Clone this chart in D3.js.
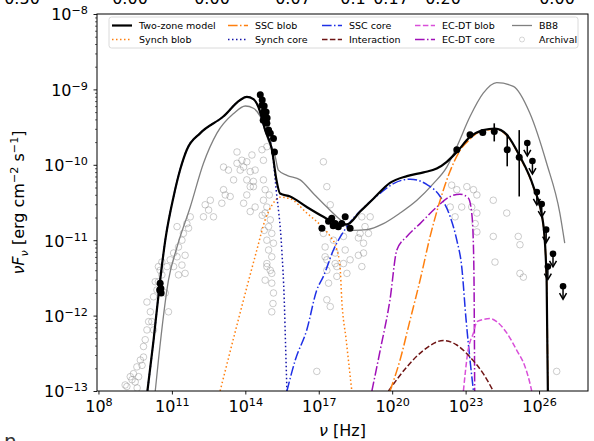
<!DOCTYPE html>
<html><head><meta charset="utf-8">
<script src="https://cdn.jsdelivr.net/npm/d3@7/dist/d3.min.js"></script>
<style>body{margin:0;background:#fff}svg{display:block}text{font-family:"DejaVu Sans",sans-serif}</style>
</head><body><svg id="c" width="594" height="441"></svg>
<script>
// ---------- data (log10 values) ----------
const xTickExps = [8, 11, 14, 17, 20, 23, 26];
const yTickExps = [-13, -12, -11, -10, -9, -8];
const topCutTexts = ["0.50", "0.00", "0.00", "0.07", "0.1", "0.17", "0.20", "0.00"];

const twoZoneLogNu = [10.00,10.25,10.52,10.73,11.07,11.35,11.61,12.16,13.10,13.79,14.06,14.33,14.53,14.81,15.10,15.26,15.42,15.83,16.51,17.19,17.74,18.15,18.69,19.23,19.91,20.60,21.28,21.82,22.23,22.64,23.18,23.72,24.20,24.68,25.22,25.77,26.17,26.31,26.36];
const twoZoneLogF  = [-13.0,-12.33,-11.53,-11.00,-10.42,-10.05,-9.80,-9.58,-9.36,-9.14,-9.10,-9.13,-9.23,-9.54,-9.82,-10.18,-10.38,-10.42,-10.56,-10.69,-10.78,-10.79,-10.62,-10.45,-10.24,-10.15,-10.10,-10.05,-9.96,-9.83,-9.63,-9.54,-9.52,-9.60,-9.89,-10.29,-10.78,-11.53,-13.0];

const synchBlobLogNu = [12.97,13.71,14.47,14.81,15.10,15.42,15.83,16.51,17.19,17.47,17.74,17.87,17.94,18.12,18.35];
const synchBlobLogF  = [-13.0,-12.06,-11.13,-10.73,-10.53,-10.43,-10.45,-10.64,-10.84,-10.95,-11.13,-11.35,-11.79,-12.32,-13.0];

const synchCoreLogNu = [10.00,10.25,10.52,10.73,11.07,11.35,11.61,12.16,13.10,13.79,14.06,14.33,14.53,14.81,15.08,15.26,15.49,15.59,15.65,15.70];
const synchCoreLogF  = [-13.0,-12.33,-11.53,-11.00,-10.42,-10.05,-9.80,-9.58,-9.36,-9.14,-9.10,-9.13,-9.23,-9.54,-9.78,-10.33,-11.13,-11.79,-12.46,-13.0];

const sscCoreLogNu = [15.70,16.04,16.51,16.92,17.19,17.60,18.15,18.96,19.50,20.05,20.73,21.41,21.96,22.37,22.64,22.84,23.02,23.18,23.32];
const sscCoreLogF  = [-13.0,-12.59,-12.19,-11.66,-11.48,-11.13,-10.82,-10.53,-10.38,-10.25,-10.19,-10.26,-10.42,-10.69,-11.00,-11.35,-12.06,-12.59,-13.0];

const sscBlobLogNu = [19.91,20.32,20.73,21.14,21.55,21.96,22.36,22.77,23.18,23.59,24.20,24.68,25.22,25.77,26.17,26.31,26.36];
const sscBlobLogF  = [-13.0,-12.59,-12.06,-11.53,-10.95,-10.47,-10.09,-9.81,-9.66,-9.56,-9.53,-9.61,-9.90,-10.30,-10.79,-11.54,-13.0];

const ecdtCoreLogNu = [19.17,19.51,19.91,20.19,20.60,21.14,21.82,22.37,22.77,23.11,23.25,23.32,23.35,23.37];
const ecdtCoreLogF  = [-13.0,-12.46,-11.79,-11.13,-10.95,-10.78,-10.56,-10.42,-10.39,-10.44,-10.64,-11.09,-11.79,-13.0];

const ecdtBlobLogNu = [22.91,23.10,23.32,23.46,24.00,24.27,24.68,25.09,25.43,25.63,25.70];
const ecdtBlobLogF  = [-13.0,-12.46,-12.23,-12.08,-12.04,-12.08,-12.23,-12.46,-12.68,-12.90,-13.0];

const interactionLogNu = [19.85,20.60,21.28,22.09,22.64,23.18,23.72,24.13];
const interactionLogF  = [-13.0,-12.68,-12.46,-12.33,-12.39,-12.55,-12.77,-13.0];

const bb8LogNu = [10.32,10.45,10.86,11.21,11.75,12.29,12.84,13.52,14.00,14.33,14.61,14.93,15.22,15.35,15.70,16.24,16.78,17.33,17.88,18.42,18.96,19.64,20.32,21.01,21.68,22.23,22.64,23.18,23.72,24.27,24.95,25.63,26.31,26.85,27.05];
const bb8LogF  = [-13.0,-12.59,-11.53,-11.09,-10.56,-9.98,-9.58,-9.32,-9.22,-9.25,-9.36,-9.67,-9.89,-10.07,-10.14,-10.20,-10.38,-10.56,-10.73,-10.87,-10.86,-10.78,-10.64,-10.47,-10.25,-10.03,-9.76,-9.36,-9.05,-8.91,-8.96,-9.32,-9.98,-10.64,-11.04];

const archivalLogNu = [9.16,9.37,9.43,9.57,9.64,9.71,9.78,9.84,9.91,9.98,10.05,10.12,10.18,9.98,10.25,10.39,10.45,10.59,10.73,10.86,10.32,10.52,10.80,10.93,11.21,11.54,11.54,10.25,9.84,9.30,9.50,9.09,9.58,
10.45,10.59,11.07,11.27,11.41,11.61,11.47,11.75,12.36,12.57,12.70,13.04,13.11,13.18,13.38,12.29,12.50,13.11,13.31,13.52,13.66,13.86,13.93,14.06,14.20,14.33,14.27,14.40,13.66,13.79,14.06,14.20,14.33,14.20,14.40,14.74,14.81,14.74,14.88,14.81,15.02,14.95,15.08,14.88,15.15,14.95,15.08,14.88,15.08,14.74,14.68,14.88,14.06,13.93,11.41,11.07,11.27,11.68,11.21,15.02,15.08,15.15,15.13,15.08,14.88,14.81,14.77,14.98,14.69,
17.26,17.33,17.40,17.33,17.47,17.67,17.74,16.92,17.19,17.26,17.33,17.60,17.67,17.74,18.01,18.08,18.01,18.15,17.19,17.33,17.47,18.76,18.89,19.03,19.10,18.83,18.69,18.62,18.76,18.62,18.83,18.28,
22.43,22.64,23.05,23.32,23.46,23.25,23.46,23.39,23.46,22.37,22.57,22.84,24.13,24.13,24.20,24.68,25.15,25.22,25.22,25.36,26.72];
const archivalLogF = [-12.94,-12.85,-12.77,-12.68,-12.81,-12.59,-12.66,-12.55,-12.32,-12.19,-12.08,-11.95,-12.08,-11.82,-11.75,-11.66,-11.55,-11.46,-11.70,-11.95,-11.55,-11.40,-11.35,-11.26,-11.22,-11.44,-11.20,-12.19,-12.41,-12.81,-12.88,-12.92,-12.96,
-11.35,-11.29,-11.17,-11.09,-11.33,-10.78,-10.91,-10.69,-10.53,-10.47,-10.69,-10.51,-10.33,-10.40,-10.42,-10.69,-10.60,-10.03,-10.07,-10.20,-9.83,-9.94,-10.03,-9.96,-10.09,-10.22,-9.87,-10.07,-9.98,-10.07,-10.20,-10.29,-10.29,-10.62,-10.56,-10.20,-10.33,-10.47,-10.56,-10.64,-10.73,-10.82,-10.91,-11.00,-11.04,-11.13,-11.22,-11.35,-11.44,-9.94,-9.80,-9.76,-10.40,-10.51,-11.00,-11.35,-11.46,-10.84,-10.82,-11.40,-11.57,-11.70,-11.84,-11.95,-11.31,-11.53,-10.87,-10.40,-10.67,
-11.22,-11.40,-11.57,-11.79,-11.88,-11.31,-11.48,-12.74,-10.91,-11.09,-11.26,-11.00,-11.17,-11.35,-10.95,-11.13,-11.31,-11.44,-9.96,-10.29,-10.53,-10.69,-10.82,-10.91,-10.69,-11.04,-10.91,-10.97,-11.35,-11.20,-11.17,-11.26,
-10.27,-10.33,-10.29,-10.33,-10.40,-10.56,-10.64,-10.78,-10.89,-10.56,-10.69,-10.56,-10.47,-10.95,-11.29,-10.64,-10.95,-11.06,-11.44,-11.49,-12.74];

const obsLogNu = [10.52,10.55,10.56,10.50, 14.61,14.68,14.69,14.74,14.77,14.81,14.85,14.88,14.95,15.02,15.15,15.19,14.73,14.89, 17.13,17.40,17.53,17.67,17.80,17.94,18.08,18.28,17.59, 22.64,23.18,23.70];
const obsLogF  = [-11.57,-11.64,-11.70,-11.66, -9.07,-9.21,-9.14,-9.30,-9.22,-9.36,-9.30,-9.45,-9.54,-9.58,-9.65,-9.83,-9.41,-9.38, -10.84,-10.75,-10.71,-10.78,-10.82,-10.78,-10.69,-10.84,-10.81, -9.80,-9.60,-9.57];

const errLogNu = [24.17, 24.70, 25.19];
const errLogF  = [-9.56, -9.80, -9.90];
const errLogLo = [-9.69, -10.02, -10.42];
const errLogHi = [-9.45, -9.60, -9.54];

const ulLogNu = [25.52,25.73,25.91,26.11,26.29,26.57,26.36,26.98];
const ulLogF  = [-9.71,-9.95,-10.36,-10.52,-10.86,-11.18,-11.35,-11.61];

const legendLabels = ["Two-zone model","Synch blob","SSC blob","Synch core","SSC core","Interaction","EC-DT blob","EC-DT core","BB8","Archival"];

// ---------- layout ----------
const L = 97, R = 588, T = 14, B = 391;
const svg = d3.select("#c");
svg.append("rect").attr("width",594).attr("height",441).attr("fill","#fff");

const x = d3.scaleLog().domain([Math.pow(10,7.94), 1e28]).range([L, R]);
const y = d3.scaleLog().domain([1e-13, 1e-8]).range([B, T]);
const P = v => Math.pow(10, v);

svg.append("clipPath").attr("id","clip").append("rect").attr("x",L).attr("y",T).attr("width",R-L).attr("height",B-T);
const plot = svg.append("g").attr("clip-path","url(#clip)");

const line = d3.line().x(d => x(P(d[0]))).y(d => y(P(d[1]))).curve(d3.curveMonotoneX);

// archival
plot.append("g").selectAll("circle").data(d3.zip(archivalLogNu, archivalLogF)).join("circle")
  .attr("cx", d => x(P(d[0]))).attr("cy", d => y(P(d[1]))).attr("r", 3.3)
  .attr("fill","none").attr("stroke","#7a7a7a").attr("stroke-opacity",0.38).attr("stroke-width",1);

const styles = {
  synchBlob:  {color:"#ff7f0e", dash:"1.5,2.5", w:1.5},
  sscBlob:    {color:"#ff7f0e", dash:"9.6,2.4,1.5,2.4", w:1.5},
  synchCore:  {color:"#1414a8", dash:"1.5,2.5", w:1.5},
  sscCore:    {color:"#1f30e6", dash:"9.6,2.4,1.5,2.4", w:1.5},
  interaction:{color:"#6e1414", dash:"5.5,2.4", w:1.5},
  ecdtBlob:   {color:"#d94fd9", dash:"5.5,2.4", w:1.5},
  ecdtCore:   {color:"#a010b8", dash:"9.6,2.4,1.5,2.4", w:1.5},
  bb8:        {color:"#808080", dash:null, w:1.3},
  model:      {color:"#000000", dash:null, w:2.2}
};
function drawCurve(nu, f, st) {
  plot.append("path").datum(d3.zip(nu, f)).attr("d", line)
    .attr("fill","none").attr("stroke", st.color).attr("stroke-width", st.w)
    .attr("stroke-dasharray", st.dash).attr("stroke-linejoin","round");
}
drawCurve(bb8LogNu, bb8LogF, styles.bb8);
drawCurve(synchBlobLogNu, synchBlobLogF, styles.synchBlob);
drawCurve(synchCoreLogNu, synchCoreLogF, styles.synchCore);
drawCurve(sscCoreLogNu, sscCoreLogF, styles.sscCore);
drawCurve(ecdtCoreLogNu, ecdtCoreLogF, styles.ecdtCore);
drawCurve(ecdtBlobLogNu, ecdtBlobLogF, styles.ecdtBlob);
drawCurve(interactionLogNu, interactionLogF, styles.interaction);
drawCurve(sscBlobLogNu, sscBlobLogF, styles.sscBlob);
drawCurve(twoZoneLogNu, twoZoneLogF, styles.model);

// observed points
plot.append("g").selectAll("circle").data(d3.zip(obsLogNu, obsLogF)).join("circle")
  .attr("cx", d => x(P(d[0]))).attr("cy", d => y(P(d[1]))).attr("r", 3.5).attr("fill","#000");
const eg = plot.append("g");
errLogNu.forEach((n,i) => {
  eg.append("line").attr("x1",x(P(n))).attr("x2",x(P(n))).attr("y1",y(P(errLogLo[i]))).attr("y2",y(P(errLogHi[i])))
    .attr("stroke","#000").attr("stroke-width",1.6);
  eg.append("circle").attr("cx",x(P(n))).attr("cy",y(P(errLogF[i]))).attr("r",3.5).attr("fill","#000");
});
const ug = plot.append("g");
ulLogNu.forEach((n,i) => {
  const cx = x(P(n)), cy = y(P(ulLogF[i]));
  ug.append("line").attr("x1",cx).attr("x2",cx).attr("y1",cy).attr("y2",cy+12).attr("stroke","#000").attr("stroke-width",1.5);
  ug.append("path").attr("d",`M${cx-3.5},${cy+7}L${cx},${cy+13}L${cx+3.5},${cy+7}`).attr("fill","none").attr("stroke","#000").attr("stroke-width",1.5);
  ug.append("circle").attr("cx",cx).attr("cy",cy).attr("r",3.3).attr("fill","#000");
});

// ---------- axes ----------
const FS = 16;
function sci(textSel, exp) {
  textSel.append("tspan").text("10");
  textSel.append("tspan").attr("font-size", 11.2).attr("dy", -6).text(exp < 0 ? "\u2212" + (-exp) : String(exp));
}
const gx = svg.append("g").attr("transform", `translate(0,${B})`)
  .call(d3.axisBottom(x).tickValues(xTickExps.map(P)).tickSize(3.5).tickFormat(() => ""));
gx.select(".domain").remove();
gx.selectAll(".tick line").attr("stroke","#000").attr("stroke-width",0.9);
gx.selectAll(".tick").each(function(d, i) {
  const t = d3.select(this).append("text").attr("y", 20.5).attr("fill","#000").attr("font-size", FS).attr("text-anchor","middle");
  sci(t, xTickExps[i]);
});

const gy = svg.append("g").attr("transform", `translate(${L},0)`)
  .call(d3.axisLeft(y).tickValues(yTickExps.map(P)).tickSize(3.5).tickFormat(() => ""));
gy.select(".domain").remove();
gy.selectAll(".tick line").attr("stroke","#000").attr("stroke-width",0.9);
gy.selectAll(".tick").each(function(d, i) {
  const t = d3.select(this).append("text").attr("x", -9).attr("y", 5.8).attr("fill","#000").attr("font-size", FS).attr("text-anchor","end");
  sci(t, yTickExps[i]);
});
const minorY = [];
yTickExps.slice(0, -1).forEach(e => { for (let m = 2; m <= 9; m++) minorY.push(m * P(e)); });
const gym = svg.append("g").attr("transform", `translate(${L},0)`)
  .call(d3.axisLeft(y).tickValues(minorY).tickSize(2).tickFormat(() => ""));
gym.select(".domain").remove();
gym.selectAll(".tick line").attr("stroke","#000").attr("stroke-width",0.6);

svg.append("rect").attr("x",L).attr("y",T).attr("width",R-L).attr("height",B-T)
  .attr("fill","none").attr("stroke","#000").attr("stroke-width",1);

// axis titles
const xt = svg.append("text").attr("x",(L+R)/2).attr("y",436).attr("text-anchor","middle").attr("font-size",FS);
xt.append("tspan").attr("font-style","italic").text("\u03bd");
xt.append("tspan").text(" [Hz]");

const yt = svg.append("text").attr("transform",`translate(24,${(T+B)/2}) rotate(-90)`).attr("text-anchor","middle").attr("font-size",FS);
yt.append("tspan").attr("font-style","italic").text("\u03bdF");
yt.append("tspan").attr("font-style","italic").attr("font-size",11.2).attr("dy",3.5).text("\u03bd");
yt.append("tspan").attr("dy",-3.5).text(" [erg cm");
yt.append("tspan").attr("font-size",11.2).attr("dy",-6).text("\u22122");
yt.append("tspan").attr("dy",6).text(" s");
yt.append("tspan").attr("font-size",11.2).attr("dy",-6).text("\u22121");
yt.append("tspan").attr("dy",6).text("]");

// ---------- legend ----------
const lg = svg.append("g");
lg.append("rect").attr("x",109).attr("y",17).attr("width",469).attr("height",31).attr("rx",2.5)
  .attr("fill","#fff").attr("fill-opacity",0.8).attr("stroke","#d0d0d0").attr("stroke-width",0.8);
const legStyles = [styles.model, styles.synchBlob, styles.sscBlob, styles.synchCore, styles.sscCore, styles.interaction, styles.ecdtBlob, styles.ecdtCore, styles.bb8, null];
const colX = [112, 228, 322, 415, 512];
const rowY = [25.5, 39.5];
legendLabels.forEach((lab, i) => {
  const c = Math.floor(i / 2), r = i % 2;
  const hx = colX[c], hy = rowY[r];
  const st = legStyles[i];
  if (st) {
    lg.append("line").attr("x1",hx).attr("x2",hx+20).attr("y1",hy).attr("y2",hy)
      .attr("stroke",st.color).attr("stroke-width",st.w).attr("stroke-dasharray",st.dash);
  } else {
    lg.append("circle").attr("cx",hx+10).attr("cy",hy).attr("r",2.5).attr("fill","none")
      .attr("stroke","#7a7a7a").attr("stroke-opacity",0.3);
  }
  lg.append("text").attr("x",hx+27).attr("y",hy+3.4).attr("font-size",9.5).attr("fill","#000").text(lab);
});

// ---------- cropped text fragments at the picture edges ----------
const topX = [22, 130, 212, 293, 353, 391, 443, 557];
svg.append("g").selectAll("text").data(topCutTexts).join("text")
  .attr("x", (d, i) => topX[i]).attr("y", 4).attr("text-anchor","middle").attr("font-size",FS).attr("fill","#000").text(d => d);
svg.append("text").attr("x",4).attr("y",448).attr("font-size",20).attr("fill","#333").text("n");
</script></body></html>
